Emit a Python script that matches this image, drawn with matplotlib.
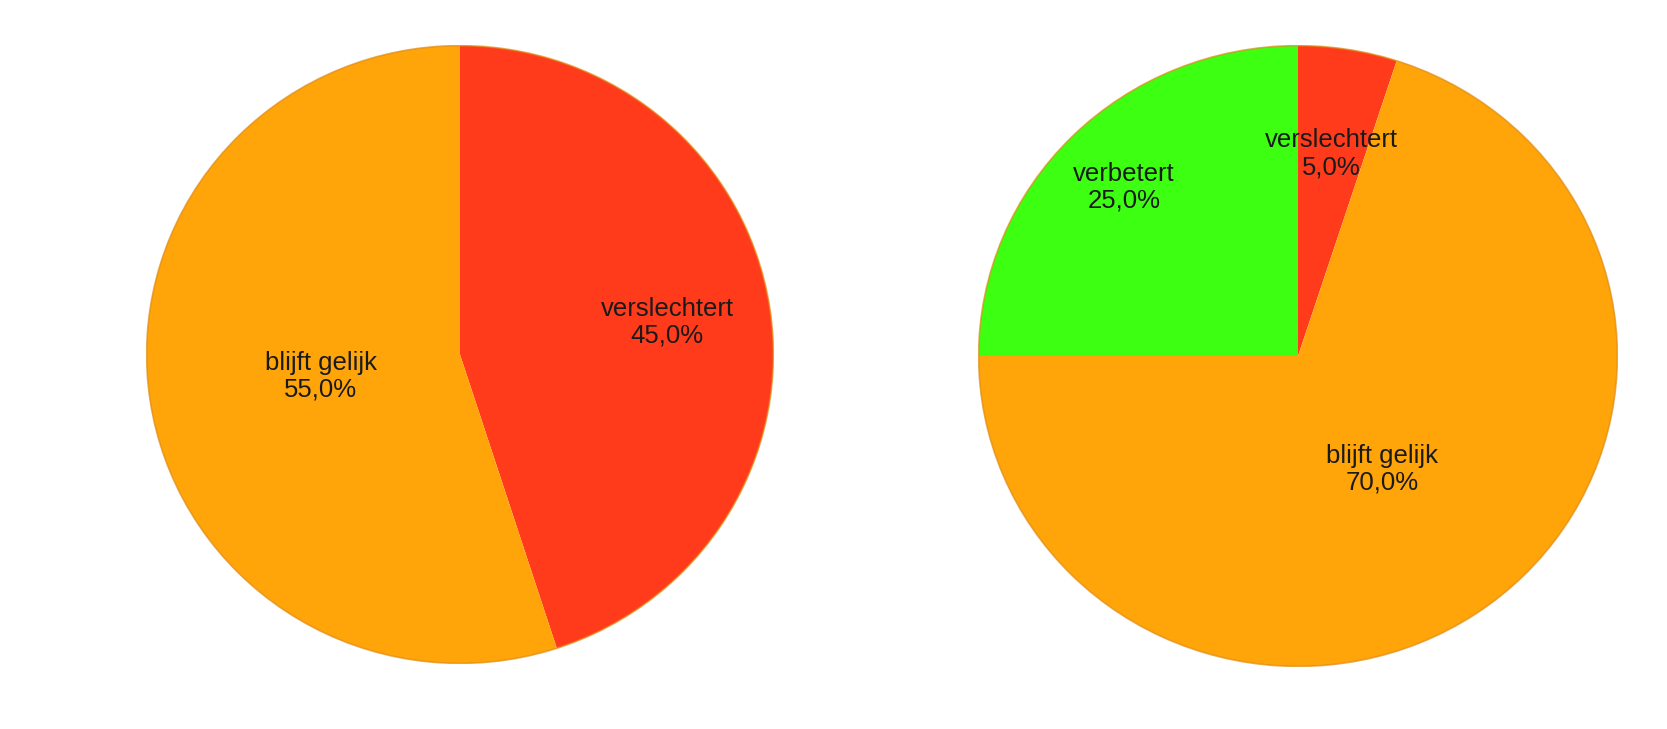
import numpy as np
import matplotlib
matplotlib.use("Agg")
import matplotlib.pyplot as plt

plt.rcParams['font.family'] = ['Liberation Sans', 'DejaVu Sans']

# left pie
left_labels = ['verslechtert', 'blijft gelijk']
left_values = [45.0, 55.0]
left_colors = ['#FF3B1C', '#FFA50A']
left_dist = [0.67, 0.45]

# right pie
right_labels = ['verslechtert', 'blijft gelijk', 'verbetert']
right_values = [5.0, 70.0, 25.0]
right_colors = ['#FF3B1C', '#FFA50A', '#3CFF12']
right_dist = [0.66, 0.45, 0.77]

W, H = 1667, 729
fig = plt.figure(figsize=(W / 100, H / 100), dpi=100)


def draw_pie(box, values, labels, colors, dists):
    x0, y0, x1, y1 = box
    ax = fig.add_axes([x0 / W, 1 - y1 / H, (x1 - x0) / W, (y1 - y0) / H])
    wedges, _ = ax.pie(values, colors=colors, startangle=90, counterclock=False,
                       radius=1, wedgeprops=dict(linewidth=0))
    # thin darker rim
    rim = plt.Circle((0, 0), 1, fill=False, edgecolor='#E08A10', linewidth=1.2, alpha=0.7)
    ax.add_patch(rim)
    for w, lab, v, d in zip(wedges, labels, values, dists):
        ang = np.deg2rad((w.theta1 + w.theta2) / 2)
        ax.text(d * np.cos(ang), d * np.sin(ang), f"{lab}\n{v:.1f}%".replace('.', ','),
                ha='center', va='center', fontsize=18.5, color='#1a1a1a',
                linespacing=1.15)
    ax.set_aspect('auto')
    ax.set_xlim(-1.002, 1.002)
    ax.set_ylim(-1.002, 1.002)
    ax.axis('off')
    return ax


draw_pie((146, 45, 774, 664), left_values, left_labels, left_colors, left_dist)
draw_pie((978, 45, 1618, 667), right_values, right_labels, right_colors, right_dist)

fig.savefig('out.png', dpi=100, facecolor='white')
